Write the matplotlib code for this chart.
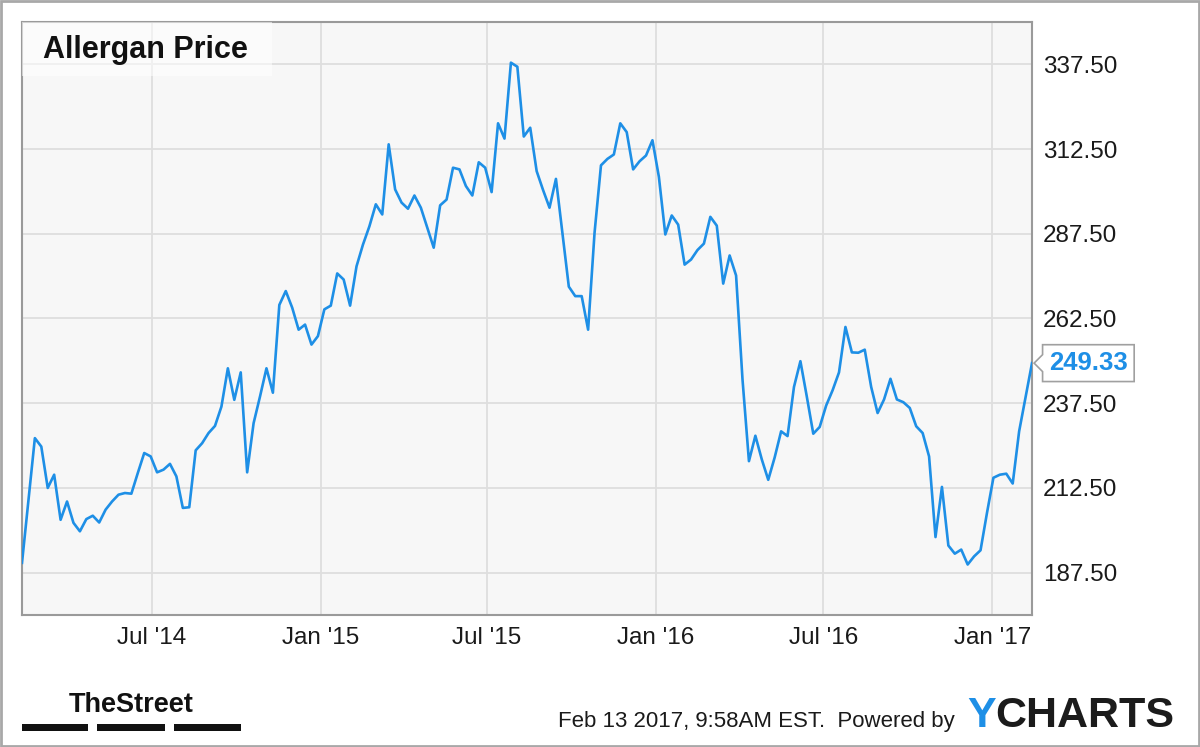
import numpy as np
import pandas as pd
import matplotlib
matplotlib.use("Agg")
import matplotlib.pyplot as plt
import matplotlib.dates as mdates
from matplotlib.path import Path
from matplotlib.patches import Rectangle

# ---------------- data ----------------
start_date = "2014-02-10"
week_idx = [0] + list(range(2, 156)) + [157]
prices = [
    190.4, 227.2, 224.7, 212.5, 216.4, 203.1, 208.5, 202.2, 199.7, 203.3,
    204.3, 202.3, 206.1, 208.5, 210.5, 211.0, 210.8, 216.9, 222.8, 221.8,
    217.1, 217.9, 219.6, 215.9, 206.6, 206.8, 223.6, 225.7, 228.7, 230.8,
    236.5, 247.8, 238.5, 246.6, 217.1, 231.6, 239.5, 247.8, 240.6, 266.5,
    270.6, 265.7, 259.2, 260.7, 254.8, 257.3, 265.2, 266.3, 275.8, 274.0,
    266.3, 277.9, 284.3, 289.7, 296.2, 293.2, 313.9, 300.6, 296.7, 294.9,
    298.8, 295.2, 289.3, 283.4, 295.9, 297.6, 307.0, 306.5, 301.6, 298.8,
    308.6, 307.0, 299.8, 320.1, 315.6, 338.0, 336.8, 316.2, 318.8, 306.0,
    300.4, 295.2, 303.7, 287.8, 271.9, 269.1, 269.1, 259.2, 287.8, 307.7,
    309.6, 310.9, 320.1, 317.5, 306.5, 308.9, 310.6, 315.1, 304.3, 287.3,
    292.9, 290.2, 278.4, 279.9, 282.7, 284.6, 292.5, 289.9, 272.8, 281.1,
    275.2, 244.5, 220.4, 227.9, 220.9, 214.9, 221.5, 229.2, 227.8, 242.3,
    249.9, 239.4, 228.5, 230.5, 236.8, 241.3, 246.6, 260.0, 252.5, 252.4,
    253.3, 242.3, 234.6, 238.6, 244.7, 238.6, 237.8, 236.1, 230.7, 228.7,
    221.8, 198.0, 212.8, 195.5, 193.1, 194.3, 189.9, 192.3, 194.1, 205.1,
    215.5, 216.4, 216.7, 213.8, 229.2, 249.33,
]
y_ticks = [187.5, 212.5, 237.5, 262.5, 287.5, 312.5, 337.5]
x_tick_dates = ["2014-07-01", "2015-01-01", "2015-07-01", "2016-01-01", "2016-07-01", "2017-01-01"]
title = "Allergan Price"
footer = "Feb 13 2017, 9:58AM EST.  Powered by"

dates = pd.Timestamp(start_date) + pd.to_timedelta(np.array(week_idx) * 7, unit="D")

# ---------------- style ----------------
LINE = "#1e8fe6"
GRID = "#dedede"
FRAME = "#9a9a9a"
FONT = ["Liberation Sans", "DejaVu Sans"]
plt.rcParams["font.family"] = FONT

W, H = 1200, 747
fig = plt.figure(figsize=(W / 100, H / 100), dpi=100)
fig.patch.set_facecolor("white")

ax = fig.add_axes([22 / W, 1 - 615 / H, (1032 - 22) / W, (615 - 22) / H])
ax.set_facecolor("#f7f7f7")

ax.plot(dates, prices, color=LINE, lw=1.9, solid_joinstyle="round", zorder=3)

ax.set_ylim(175, 350)
ax.set_xlim(pd.Timestamp(start_date), dates[-1])

ax.set_yticks(y_ticks)
ax.set_yticklabels([f"{v:.2f}" for v in y_ticks])
ax.set_xticks(pd.to_datetime(x_tick_dates))
ax.xaxis.set_major_formatter(mdates.DateFormatter("%b '%y"))

ax.yaxis.tick_right()
ax.tick_params(axis="y", length=0, pad=8, labelsize=17.5, labelcolor="#1a1a1a")
ax.tick_params(axis="x", length=0, pad=9, labelsize=17.5, labelcolor="#1a1a1a")
ax.grid(True, color=GRID, lw=1.3, zorder=0)
ax.set_axisbelow(True)
for s in ax.spines.values():
    s.set_color(FRAME)
    s.set_linewidth(1.5)

# title box (semi-transparent)
ax.add_patch(Rectangle((0, 1), 250 / 1010, -54 / 593, transform=ax.transAxes,
                       facecolor="white", alpha=0.55, edgecolor="none", zorder=4))
ax.text(21 / 1010, 1 - 28 / 593, title, transform=ax.transAxes, fontsize=22,
        fontweight="bold", color="#111111", va="center", ha="left", zorder=5)

# last value tag
def tag_box(x0, y0, width, height, mutation_size):
    pad = 0.25 * mutation_size
    x0 -= pad
    y0 -= pad
    x1 = x0 + width + 2 * pad
    y1 = y0 + height + 2 * pad
    ym = (y0 + y1) / 2
    a = 0.33 * mutation_size
    verts = [(x0, y0), (x1, y0), (x1, y1), (x0, y1), (x0, ym + a), (x0 - a, ym),
             (x0, ym - a), (x0, y0)]
    codes = [Path.MOVETO] + [Path.LINETO] * 6 + [Path.CLOSEPOLY]
    return Path(verts, codes)

ax.annotate(f"{prices[-1]:.2f}", xy=(1, prices[-1]),
            xycoords=("axes fraction", "data"), xytext=(17, 0),
            textcoords="offset pixels", fontsize=18.5, fontweight="bold",
            color=LINE, va="center", ha="left", annotation_clip=False,
            bbox=dict(boxstyle=tag_box, facecolor="white", edgecolor="#a0a0a0", lw=1.2),
            zorder=6)

# footer
fig.text(955 / W, 1 - 727 / H, footer, fontsize=16, color="#1a1a1a",
         ha="right", va="baseline")
ty = fig.text(967 / W, 1 - 727 / H, "Y", fontsize=31, fontweight="bold",
              color="#1e8fe6", ha="left", va="baseline")
fig.canvas.draw()
bb = ty.get_window_extent(renderer=fig.canvas.get_renderer())
fig.text(bb.x1 / W, 1 - 727 / H, "CHARTS", fontsize=31, fontweight="bold",
         color="#1b1b1b", ha="left", va="baseline")

# TheStreet logo
fig.text(131 / W, 1 - 712 / H, "TheStreet", fontsize=19.5, fontweight="bold",
         color="#111111", ha="center", va="baseline",
         family=["Liberation Sans Narrow", "Liberation Sans", "DejaVu Sans"])
for x0, x1 in [(22, 88), (97, 165), (174, 241)]:
    fig.patches.append(Rectangle((x0 / W, 1 - 731 / H), (x1 - x0) / W, 7 / H,
                                 transform=fig.transFigure, facecolor="#111111",
                                 edgecolor="none"))

# outer border
fig.patches.append(Rectangle((0.001, 0.0015), 0.998, 0.997, transform=fig.transFigure,
                             facecolor="none", edgecolor="#a8a8a8", lw=2.0))

fig.savefig("out.png", dpi=100)
